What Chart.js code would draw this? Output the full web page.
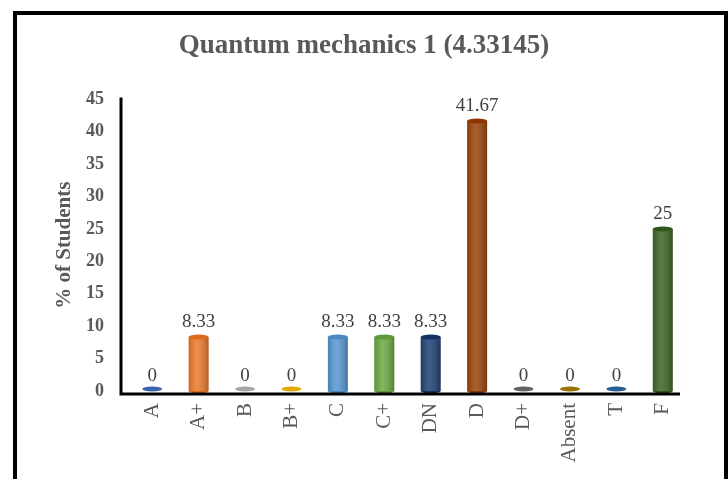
<!DOCTYPE html>
<html>
<head>
<meta charset="utf-8">
<script src="https://cdn.jsdelivr.net/npm/chart.js@4/dist/chart.umd.min.js"></script>
<style>
  body { margin: 0; background: #fff; overflow: hidden; }
  #wrap { position: absolute; left: 0; top: 0; width: 728px; height: 479px; }
</style>
</head>
<body>
<div id="wrap"><canvas id="gradeChart" width="728" height="479"></canvas></div>
<script>
const grades = ["A", "A+", "B", "B+", "C", "C+", "DN", "D", "D+", "Absent", "T", "F"];
const percentStudents = [0, 8.33, 0, 0, 8.33, 8.33, 8.33, 41.67, 0, 0, 0, 25];
const percentLabels = ["0", "8.33", "0", "0", "8.33", "8.33", "8.33", "41.67", "0", "0", "0", "25"];
const barColors = ["#3b62ad", "#ed7d31", "#a5a5a5", "#e0aa00", "#5b9bd5", "#70ad47",
    "#264478", "#9e480e", "#636363", "#997300", "#255e91", "#43682b"];
const yTicks = [0, 5, 10, 15, 20, 25, 30, 35, 40, 45];

const serif = "'Liberation Serif', 'Times New Roman', serif";

function shade(hex, amt) {
  let n = parseInt(hex.slice(1), 16);
  let r = n >> 16, g = (n >> 8) & 255, b = n & 255;
  const f = v => Math.max(0, Math.min(255, Math.round(v + amt)));
  return "rgb(" + f(r) + "," + f(g) + "," + f(b) + ")";
}

// black frame round the whole picture
const framePlugin = {
  id: "frame",
  afterDraw(chart) {
    const ctx = chart.ctx;
    ctx.save();
    ctx.strokeStyle = "#000";
    ctx.lineWidth = 4;
    ctx.beginPath();
    ctx.moveTo(15, chart.height + 5);
    ctx.lineTo(15, 13);
    ctx.lineTo(726, 13);
    ctx.lineTo(726, chart.height + 5);
    ctx.stroke();
    ctx.restore();
  }
};

// cylinder caps, shading and value labels
const cylinderPlugin = {
  id: "cylinder",
  afterDatasetsDraw(chart) {
    const ctx = chart.ctx;
    const meta = chart.getDatasetMeta(0);
    meta.data.forEach((bar, i) => {
      const w = bar.width, x0 = bar.x - w / 2, rx = w / 2, ry = 2.5;
      const col = barColors[i];
      const tall = bar.base - bar.y > 0.5;
      ctx.save();
      if (tall) {
        const g = ctx.createLinearGradient(x0, 0, x0 + w, 0);
        g.addColorStop(0, "rgba(0,0,0,0.18)");
        g.addColorStop(0.4, "rgba(255,255,255,0.12)");
        g.addColorStop(1, "rgba(0,0,0,0.25)");
        ctx.fillStyle = g;
        ctx.fillRect(x0, bar.y, w, bar.base - bar.y);
        ctx.beginPath();
        ctx.ellipse(bar.x, bar.base, rx, ry, 0, 0, Math.PI);
        ctx.fillStyle = shade(col, -20);
        ctx.fill();
      }
      ctx.beginPath();
      ctx.ellipse(bar.x, tall ? bar.y : bar.y - 2, rx, ry, 0, 0, Math.PI * 2);
      ctx.fillStyle = tall ? shade(col, -18) : col;
      ctx.fill();
      ctx.fillStyle = "#404040";
      ctx.font = "19px " + serif;
      ctx.textAlign = "center";
      ctx.textBaseline = "alphabetic";
      ctx.fillText(percentLabels[i], bar.x, bar.y - 10);
      ctx.restore();
    });

    // axis lines (Excel 3D floor sits a little left/below the bars)
    const y0 = chart.scales.y.getPixelForValue(0) + 3;
    const area = chart.chartArea;
    ctx.save();
    ctx.strokeStyle = "#000";
    ctx.lineWidth = 3;
    ctx.beginPath();
    ctx.moveTo(area.left - 8, area.top - 2);
    ctx.lineTo(area.left - 8, y0);
    ctx.lineTo(area.right - 6, y0);
    ctx.stroke();
    ctx.restore();
  }
};

const config = {
  type: "bar",
  data: {
    labels: grades,
    datasets: [{
      data: percentStudents,
      backgroundColor: barColors,
      borderWidth: 0,
      categoryPercentage: 1,
      barPercentage: 0.43
    }]
  },
  options: {
    responsive: false,
    animation: false,
    layout: { padding: 0 },
    plugins: {
      legend: { display: false },
      tooltip: { enabled: false },
      title: {
        display: true,
        text: "Quantum mechanics 1 (4.33145)",
        color: "#595959",
        font: { family: serif, size: 27, weight: "bold" },
        padding: { top: 30, bottom: 37 }
      }
    },
    scales: {
      x: {
        grid: { display: false, drawTicks: false },
        border: { display: false },
        ticks: {
          color: "#595959",
          font: { family: serif, size: 21 },
          minRotation: 90,
          maxRotation: 90,
          padding: 12,
          autoSkip: false
        },
        afterFit(scale) { scale.height = 88; }
      },
      y: {
        min: 0,
        max: 45,
        afterBuildTicks(scale) { scale.ticks = yTicks.map(v => ({ value: v })); },
        grid: { display: false, drawTicks: false },
        border: { display: false },
        ticks: {
          color: "#595959",
          font: { family: serif, size: 18, weight: "bold" },
          padding: 25
        },
        title: {
          display: true,
          text: "% of Students",
          color: "#595959",
          font: { family: serif, size: 21, weight: "bold" },
          padding: { top: 52, bottom: 0 }
        },
        afterFit(scale) { scale.width = 129; }
      },
      // empty right-hand axis, only keeps room beside the plot
      spacer: {
        type: "linear",
        position: "right",
        grid: { display: false },
        border: { display: false },
        ticks: { display: false },
        afterFit(scale) { scale.width = 42; }
      }
    }
  },
  plugins: [cylinderPlugin, framePlugin]
};

const gradeChart = new Chart(document.getElementById("gradeChart"), config);
</script>
</body>
</html>
